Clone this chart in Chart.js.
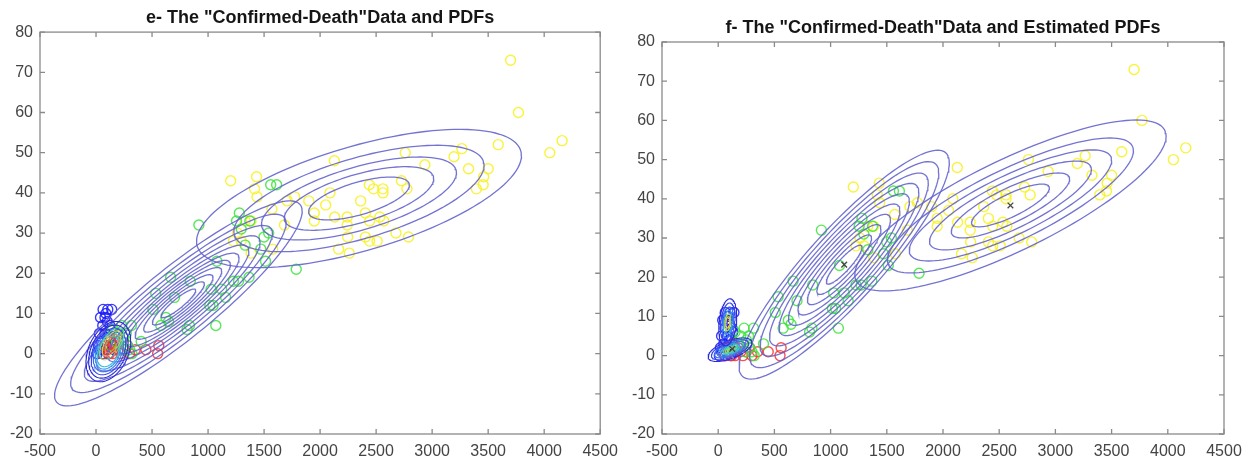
<!DOCTYPE html>
<html>
<head>
<meta charset="utf-8">
<title>Confirmed-Death Data and PDFs</title>
<script src="https://cdn.jsdelivr.net/npm/chart.js@4/dist/chart.umd.min.js"></script>
<style>
  body { margin: 0; background: #fff; }
  #wrap { position: relative; width: 1253px; height: 463px; overflow: hidden; }
  canvas { position: absolute; top: 0; }
  #chartE { left: 0; }
  #chartF { left: 622px; }
</style>
</head>
<body>
<div id="wrap">
  <canvas id="chartE" width="626" height="463"></canvas>
  <canvas id="chartF" width="631" height="463"></canvas>
</div>
<script>
// axis ticks
const xTicks = [-500, 0, 500, 1000, 1500, 2000, 2500, 3000, 3500, 4000, 4500]
const yTicks = [-20, -10, 0, 10, 20, 30, 40, 50, 60, 70, 80]

// data points (confirmed, death) by group
const yellowPoints = [
  [3700, 73], [3770, 60], [4160, 53], [4050, 50], [3590, 52], [3265, 51], [3195, 49], [3325, 46],
  [3500, 46], [3460, 44], [3455, 42], [3395, 41], [2935, 47], [2760, 50], [2127, 48], [2726, 43],
  [2775, 41], [2439, 42], [2477, 41], [2561, 41], [2561, 40], [2088, 40], [1899, 38], [1773, 39],
  [1706, 38], [2050, 37], [1948, 35], [1948, 33], [2130, 34], [2242, 34], [2242, 32], [2362, 38],
  [2404, 35], [2442, 33], [2533, 34], [2568, 33], [2677, 30], [2789, 29], [2404, 29], [2442, 28],
  [2509, 28], [2246, 29], [2165, 26], [2260, 25], [1202, 43], [1433, 44], [1415, 41], [1437, 39],
  [1570, 36], [1331, 33], [1384, 33], [1682, 32], [1261, 30], [1296, 28], [1577, 26], [1384, 25],
  [1226, 28]
]
const greenPoints = [
  [1612, 42], [1559, 42], [918, 32], [1279, 35], [1254, 33], [1373, 33], [1296, 31], [1541, 30],
  [1499, 29], [1331, 27], [1471, 26], [1513, 23], [1079, 23], [1787, 21], [666, 19], [841, 18],
  [1226, 18], [1272, 18], [1366, 19], [1121, 16], [1027, 16], [1156, 14], [1044, 12], [1016, 12],
  [533, 15], [701, 14], [508, 11], [624, 9], [648, 8], [578, 7], [834, 7], [813, 6], [1069, 7],
  [315, 7], [403, 3], [280, 2], [200, 5], [250, 4], [150, 6], [300, 1], [320, 0], [230, 7],
  [180, 3], [270, 5], [130, 2], [240, 1]
]
const bluePoints = [
  [63, 11], [140, 11], [88, 10], [105, 11], [123, 7], [40, 9], [100, 8], [60, 7], [30, 5],
  [80, 5], [120, 4], [20, 2], [50, 3], [90, 2], [150, 2], [10, 0], [40, 1], [70, 1], [110, 0],
  [160, 1], [30, 1], [60, 0], [100, 4], [80, 9], [130, 6]
]
const redPoints = [
  [445, 1], [560, 2], [550, 0], [350, 1], [150, 0], [200, 1], [250, 1], [100, 1], [60, 0],
  [180, 2], [300, 0], [130, 3], [80, 2], [220, 0], [280, 2], [120, 0]
]

// gaussian components: mean x, mean y, sd x, sd y, correlation
// rings: relative size of each contour line
const eCompBig = [2347, 38.6, 1450, 17.2, 0.62]
const eRingsBig = [1, 0.77, 0.6, 0.46, 0.31]
const eCompMid = [735, 12.5, 1105, 25.5, 0.9]
const eRingsMid = [1, 0.87, 0.76, 0.66, 0.57, 0.49, 0.42, 0.35, 0.28, 0.21, 0.14]
const eCompLow = [110, 0.5, 200, 7.5, 0.35]
const eRingsLow = [1, 0.88, 0.77, 0.67, 0.58, 0.5]
const eCompCore = [140, 2.5, 120, 4.5, 0.6]
const eRingsCore = [0.9, 0.7, 0.5, 0.32]

const fCompBig = [2600, 38.3, 1385, 21.8, 0.81]
const fRingsBig = [1, 0.79, 0.65, 0.52, 0.38, 0.25]
const fCompMid = [1121, 23.2, 935, 29.2, 0.89]
const fRingsMid = [1, 0.9, 0.8, 0.71, 0.62, 0.53, 0.44, 0.35, 0.26, 0.17]
const fCompLow = [105, 1.5, 195, 3, 0.6]
const fRingsLow = [1, 0.85, 0.7, 0.56, 0.43, 0.32, 0.22, 0.13]
const fCompTall = [85, 8.5, 80, 6, 0.25]
const fRingsTall = [1, 0.82, 0.65, 0.5, 0.36, 0.24]
const fMeans = [[2600, 38.3], [1121, 23.2], [125, 1.7]]

const jet = ["#2a2ad8", "#3448ee", "#3a70f2", "#3a98ee", "#3cbee6", "#44d8c0", "#62e486", "#a8e44a", "#eccc2a", "#f08e26", "#e2402a"]
const ringColor = "rgba(100, 100, 205, 0.9)"
const font = "'Liberation Sans', Arial, Helvetica, sans-serif"

function toXY(list) {
  return list.map(([x, y]) => ({ x, y }))
}

// contour line of a component at a given ring size
function ellipse(c, r) {
  const [mx, my, sx, sy, rho] = c
  const k = Math.sqrt(1 - rho * rho)
  const pts = []
  for (let i = 0; i <= 120; i++) {
    const t = (i / 120) * 2 * Math.PI
    pts.push({ x: mx + r * sx * Math.cos(t), y: my + r * sy * (rho * Math.cos(t) + k * Math.sin(t)) })
  }
  return pts
}

function rings(c, sizes, colors, width) {
  return sizes.map((r, i) => ({
    data: ellipse(c, r),
    showLine: true,
    pointRadius: 0,
    borderColor: Array.isArray(colors) ? colors[i] : colors,
    borderWidth: width || 1.3,
    fill: false,
    tension: 0,
  }))
}

function circles(list, color) {
  return {
    data: toXY(list),
    pointStyle: "circle",
    pointRadius: 5,
    borderWidth: 1.4,
    borderColor: color,
    backgroundColor: "rgba(0,0,0,0)",
    showLine: false,
  }
}

// box with inward tick marks, like the original figure
const boxPlugin = {
  id: "matlabBox",
  afterDatasetsDraw(chart) {
    const { ctx, chartArea: a, scales } = chart
    ctx.save()
    ctx.strokeStyle = "#8a8a8a"
    ctx.lineWidth = 1.3
    ctx.strokeRect(a.left, a.top, a.right - a.left, a.bottom - a.top)
    ctx.beginPath()
    xTicks.forEach((v) => {
      const px = scales.x.getPixelForValue(v)
      ctx.moveTo(px, a.bottom)
      ctx.lineTo(px, a.bottom - 5)
      ctx.moveTo(px, a.top)
      ctx.lineTo(px, a.top + 5)
    })
    yTicks.forEach((v) => {
      const py = scales.y.getPixelForValue(v)
      ctx.moveTo(a.left, py)
      ctx.lineTo(a.left + 5, py)
      ctx.moveTo(a.right, py)
      ctx.lineTo(a.right - 5, py)
    })
    ctx.stroke()
    ctx.restore()
  },
}

function makePanel(id, title, datasets, pad) {
  const tickFont = { size: 16, family: font }
  return new Chart(document.getElementById(id), {
    type: "scatter",
    data: { datasets },
    options: {
      responsive: false,
      animation: false,
      layout: { padding: { left: 0, right: pad.right, top: 0, bottom: 0 } },
      plugins: {
        legend: { display: false },
        tooltip: { enabled: false },
        title: {
          display: true,
          text: title,
          fullSize: false,
          color: "#151515",
          font: { size: 18, weight: "bold", family: font },
          padding: { top: pad.titleTop, bottom: pad.titleBottom },
        },
      },
      scales: {
        x: {
          type: "linear",
          min: -500,
          max: 4500,
          afterBuildTicks: (s) => { s.ticks = xTicks.map((v) => ({ value: v })) },
          afterFit: (s) => { s.height = 29 },
          ticks: { padding: 8, color: "#444", font: tickFont, maxRotation: 0, autoSkip: false, callback: (v) => String(v) },
          grid: { display: false, drawTicks: false },
          border: { display: false },
        },
        y: {
          type: "linear",
          min: -20,
          max: 80,
          afterBuildTicks: (s) => { s.ticks = yTicks.map((v) => ({ value: v })) },
          afterFit: (s) => { s.width = 40 },
          ticks: { padding: 7, color: "#444", font: tickFont, autoSkip: false, callback: (v) => String(v) },
          grid: { display: false, drawTicks: false },
          border: { display: false },
        },
      },
    },
    plugins: [boxPlugin],
  })
}

document.addEventListener("DOMContentLoaded", () => {
  const points = [
    circles(greenPoints, "rgba(60, 228, 60, 0.85)"),
    circles(redPoints, "rgba(250, 50, 50, 0.85)"),
    circles(bluePoints, "rgba(25, 25, 250, 0.85)"),
    circles(yellowPoints, "rgba(248, 242, 40, 0.9)"),
  ]

  // panel e: data with the PDFs
  const eSets = [
    ...rings(eCompCore, eRingsCore, [jet[6], jet[8], jet[9], jet[10]], 0.9),
    ...rings(eCompLow, eRingsLow, [jet[0], jet[0], jet[1], jet[2], jet[3], jet[4]], 1.1),
    ...rings(eCompBig, eRingsBig, ringColor),
    ...rings(eCompMid, eRingsMid, ringColor),
    ...points,
  ]
  makePanel("chartE", "e- The \"Confirmed-Death\"Data and PDFs", eSets, { right: 23, titleTop: 7, titleBottom: 3.5 })

  // panel f: data with the estimated PDFs and their means
  const fSets = [
    {
      data: toXY(fMeans),
      pointStyle: "crossRot",
      pointRadius: 4,
      borderWidth: 1.3,
      borderColor: "#444",
      showLine: false,
    },
    ...rings(fCompTall, fRingsTall, [jet[0], jet[1], jet[2], jet[3], jet[7], jet[8]], 1.1),
    ...rings(fCompLow, fRingsLow, jet.slice(0, 8), 1.1),
    ...rings(fCompBig, fRingsBig, ringColor),
    ...rings(fCompMid, fRingsMid, ringColor),
    ...points,
  ]
  makePanel("chartF", "f- The \"Confirmed-Death\"Data and Estimated PDFs", fSets, { right: 29, titleTop: 17, titleBottom: 3.4 })
})
</script>
</body>
</html>
